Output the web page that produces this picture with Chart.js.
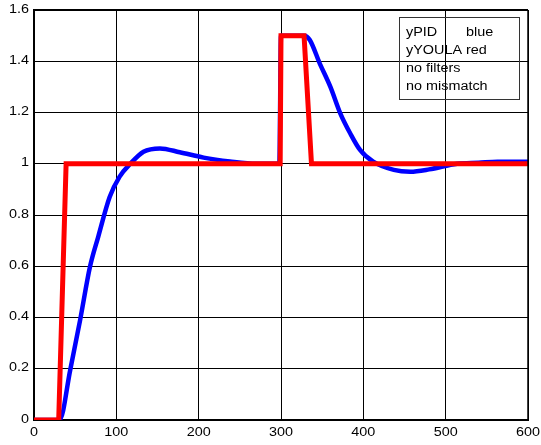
<!DOCTYPE html>
<html>
<head>
<meta charset="utf-8">
<script src="https://cdn.jsdelivr.net/npm/chart.js@4/dist/chart.umd.min.js"></script>
<style>
  body { margin: 0; background: #fff; }
  #wrap { width: 541px; height: 445px; }
</style>
</head>
<body>
<div id="wrap"><canvas id="plot" width="541" height="445"></canvas></div>
<script>
// --- data ---
const pidT = [0, 31, 44, 56, 68, 78, 92, 104, 117, 133, 153, 177, 206, 238, 270, 298, 300, 328, 335, 347, 360, 372, 384, 396, 412, 437, 457, 480, 514, 540, 563, 600];
const pidY = [0, 0, 0.195, 0.39, 0.598, 0.715, 0.871, 0.95, 1.0, 1.047, 1.06, 1.045, 1.024, 1.009, 1.0, 1.0, 1.5, 1.5, 1.483, 1.392, 1.30, 1.197, 1.119, 1.054, 1.008, 0.976, 0.969, 0.978, 1.0, 1.004, 1.008, 1.008];

const youlaT = [0, 30, 39, 299, 300, 328, 337, 600];
const youlaY = [0, 0, 1, 1, 1.5, 1.5, 1, 1];

const xTicks = [0, 100, 200, 300, 400, 500, 600];
const yTicks = [0, 0.2, 0.4, 0.6, 0.8, 1, 1.2, 1.4, 1.6];

const noteLines = [
  ['yPID', 'blue'],
  ['yYOULA red', ''],
  ['no filters', ''],
  ['no mismatch', '']
];

const FONT = "12px 'Liberation Sans', Arial, sans-serif";
const STRETCH = 1.2; // text in this figure is a bit wide

function toPoints(xs, ys) {
  return xs.map((x, i) => ({ x: x, y: ys[i] }));
}

// wide-ish text helper
function wideText(ctx, txt, x, y, align) {
  const w = ctx.measureText(txt).width * STRETCH;
  let x0 = x;
  if (align === 'right') x0 = x - w;
  else if (align === 'center') x0 = x - w / 2;
  ctx.save();
  ctx.translate(x0, y);
  ctx.scale(STRETCH, 1);
  ctx.fillText(txt, 0, 0);
  ctx.restore();
}

// box around the axes, tick labels and the text note in the corner
const framePlugin = {
  id: 'frame',
  afterDraw(chart) {
    const a = chart.chartArea;
    const ctx = chart.ctx;
    const xs = chart.scales.x;
    const ys = chart.scales.y;
    ctx.save();
    ctx.strokeStyle = '#000';
    ctx.lineWidth = 2;
    ctx.beginPath();
    ctx.moveTo(a.left, a.top);
    ctx.lineTo(a.right, a.top);
    ctx.stroke();
    ctx.lineWidth = 1.5;
    ctx.beginPath();
    ctx.moveTo(a.right, a.top);
    ctx.lineTo(a.right, a.bottom);
    ctx.stroke();

    ctx.fillStyle = '#000';
    ctx.font = FONT;
    ctx.textBaseline = 'alphabetic';
    yTicks.forEach(v => {
      wideText(ctx, String(+v.toFixed(1)), a.left - 5, ys.getPixelForValue(v) + 2.5, 'right');
    });
    xTicks.forEach(v => {
      wideText(ctx, String(v), xs.getPixelForValue(v), a.bottom + 16, 'center');
    });

    // note box
    ctx.lineWidth = 1;
    ctx.strokeStyle = '#333';
    ctx.strokeRect(399.5, 17.5, 120, 82);
    noteLines.forEach((ln, i) => {
      const y = 36 + i * 18;
      wideText(ctx, ln[0], 406, y, 'left');
      if (ln[1]) wideText(ctx, ln[1], 466, y, 'left');
    });
    ctx.restore();
  }
};

new Chart(document.getElementById('plot'), {
  type: 'line',
  data: {
    datasets: [
      {
        label: 'yPID',
        data: toPoints(pidT, pidY),
        borderColor: '#0000ff',
        borderWidth: 4.5,
        pointRadius: 0,
        cubicInterpolationMode: 'monotone',
        borderJoinStyle: 'round',
        order: 2
      },
      {
        label: 'yYOULA',
        data: toPoints(youlaT, youlaY),
        borderColor: '#ff0000',
        borderWidth: 5,
        pointRadius: 0,
        tension: 0,
        borderJoinStyle: 'miter',
        order: 1
      }
    ]
  },
  options: {
    responsive: false,
    animation: false,
    layout: { padding: { top: 10, right: 13, left: 0, bottom: 0 } },
    plugins: { legend: { display: false }, tooltip: { enabled: false } },
    scales: {
      x: {
        type: 'linear',
        min: 0,
        max: 600,
        afterBuildTicks(s) { s.ticks = xTicks.map(v => ({ value: v })); },
        afterFit(s) { s.height = 25; },
        ticks: { display: false },
        grid: { color: '#000', lineWidth: 1, drawTicks: false },
        border: { color: '#000', width: 2 }
      },
      y: {
        type: 'linear',
        min: 0,
        max: 1.6,
        afterBuildTicks(s) { s.ticks = yTicks.map(v => ({ value: v })); },
        afterFit(s) { s.width = 34; },
        ticks: { display: false },
        grid: { color: '#000', lineWidth: 1, drawTicks: false },
        border: { color: '#000', width: 2 }
      }
    }
  },
  plugins: [framePlugin]
});
</script>
</body>
</html>
